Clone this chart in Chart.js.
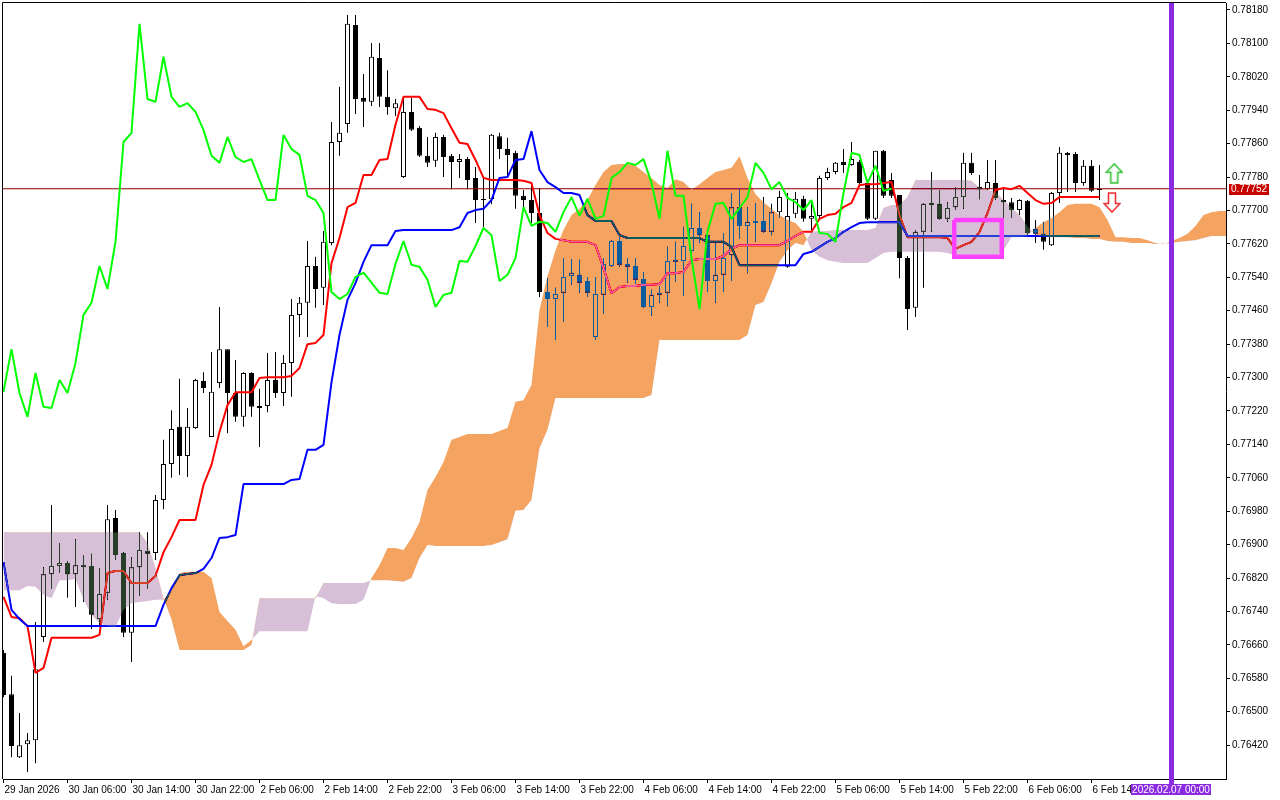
<!DOCTYPE html>
<html>
<head>
<meta charset="utf-8">
<title>H1 Ichimoku</title>
<script src="https://cdn.jsdelivr.net/npm/chart.js@4.4.1/dist/chart.umd.min.js"></script>
<style>
  html, body { margin: 0; padding: 0; background: #fff; }
  canvas { display: block; }
</style>
</head>
<body>
<canvas id="chart" width="1280" height="800"></canvas>
<script>
// H1 bars, index 0 = 29 Jan 22:00, last = 6 Feb 15:00
const opens = [
  0.76641,0.76542,0.76391,0.76422,0.76432,0.76679,0.76829,0.76849,0.76856,0.76829,
  0.76851,0.76849,0.76722,0.76785,0.76964,0.76880,0.76689,0.76846,0.76885,0.76880,
  0.77007,0.77093,0.77182,0.77112,0.77179,0.77292,0.77158,0.77287,0.77368,0.77263,
  0.77206,0.77311,0.77232,0.77232,0.77294,0.77263,0.77335,0.77450,0.77479,0.77567,
  0.77515,0.77622,0.77864,0.77907,0.78144,0.77969,0.77960,0.78065,0.77972,0.77945,
  0.77780,0.77936,0.77898,0.77831,0.77819,0.77876,0.77831,0.77816,0.77823,0.77778,
  0.77727,0.77727,0.77878,0.77847,0.77838,0.77735,0.77725,0.77694,0.77505,0.77488,
  0.77503,0.77543,0.77546,0.77531,0.77397,0.77498,0.77567,0.77627,0.77572,0.77567,
  0.77536,0.77469,0.77498,0.77503,0.77582,0.77579,0.77603,0.77658,0.77641,0.77531,
  0.77546,0.77593,0.77708,0.77663,0.77675,0.77675,0.77649,0.77696,0.77565,0.77692,
  0.77728,0.77680,0.77687,0.77778,0.77792,0.77816,0.77809,0.77816,0.77766,0.77680,
  0.77843,0.77773,0.77737,0.77586,0.77467,0.77649,0.77713,0.77716,0.77680,0.77708,
  0.77732,0.77814,0.77756,0.77751,0.77766,0.77725,0.77720,0.77701,0.77723,0.77656,
  0.77644,0.77617,0.77742,0.77838,0.77835,0.77766,0.77807,0.77749
];
const highs = [
  0.76648,0.76586,0.76497,0.76449,0.76715,0.76846,0.76995,0.76904,0.76861,0.76913,
  0.76875,0.76878,0.76844,0.76995,0.76983,0.76882,0.76870,0.76930,0.76930,0.77019,
  0.77151,0.77222,0.77297,0.77227,0.77297,0.77313,0.77361,0.77469,0.77368,0.77342,
  0.77313,0.77313,0.77273,0.77359,0.77361,0.77354,0.77488,0.77493,0.77627,0.77589,
  0.77651,0.77912,0.77996,0.78168,0.78168,0.78027,0.78101,0.78101,0.78036,0.77967,
  0.77972,0.77969,0.77902,0.77876,0.77886,0.77881,0.77835,0.77835,0.77828,0.77804,
  0.77780,0.77883,0.77886,0.77874,0.77843,0.77749,0.77768,0.77754,0.77538,0.77515,
  0.77586,0.77584,0.77582,0.77541,0.77541,0.77586,0.77629,0.77637,0.77586,0.77586,
  0.77553,0.77510,0.77519,0.77613,0.77625,0.77661,0.77716,0.77696,0.77646,0.77622,
  0.77646,0.77742,0.77751,0.77708,0.77718,0.77732,0.77716,0.77747,0.77742,0.77744,
  0.77735,0.77725,0.77783,0.77802,0.77816,0.77847,0.77864,0.77821,0.77773,0.77843,
  0.77845,0.77790,0.77737,0.77591,0.77653,0.77718,0.77792,0.77749,0.77720,0.77756,
  0.77838,0.77838,0.77785,0.77821,0.77821,0.77756,0.77730,0.77727,0.77725,0.77677,
  0.77673,0.77744,0.77852,0.77840,0.77840,0.77821,0.77821,0.77809
];
const lows = [
  0.76535,0.76391,0.76389,0.76356,0.76377,0.76667,0.76794,0.76832,0.76773,0.76751,
  0.76763,0.76698,0.76706,0.76768,0.76863,0.76679,0.76619,0.76777,0.76794,0.76863,
  0.76985,0.77060,0.77067,0.77062,0.77177,0.77263,0.77158,0.77275,0.77167,0.77194,
  0.77182,0.77206,0.77134,0.77217,0.77251,0.77232,0.77254,0.77397,0.77397,0.77467,
  0.77474,0.77617,0.77831,0.77886,0.77931,0.77900,0.77950,0.77948,0.77929,0.77926,
  0.77778,0.77890,0.77828,0.77804,0.77804,0.77780,0.77751,0.77778,0.77751,0.77670,
  0.77660,0.77715,0.77823,0.77780,0.77704,0.77706,0.77670,0.77493,0.77421,0.77390,
  0.77433,0.77522,0.77503,0.77493,0.77390,0.77452,0.77565,0.77565,0.77527,0.77524,
  0.77467,0.77448,0.77479,0.77471,0.77529,0.77495,0.77586,0.77622,0.77505,0.77479,
  0.77505,0.77531,0.77632,0.77550,0.77625,0.77646,0.77641,0.77682,0.77563,0.77682,
  0.77673,0.77653,0.77682,0.77773,0.77787,0.77790,0.77807,0.77756,0.77677,0.77677,
  0.77730,0.77730,0.77538,0.77414,0.77445,0.77515,0.77649,0.77677,0.77673,0.77701,
  0.77704,0.77785,0.77727,0.77749,0.77725,0.77677,0.77682,0.77689,0.77637,0.77622,
  0.77606,0.77615,0.77718,0.77744,0.77744,0.77759,0.77744,0.77725
];
const closes = [
  0.76540,0.76418,0.76420,0.76432,0.76602,0.76829,0.76849,0.76856,0.76829,0.76851,
  0.76846,0.76732,0.76782,0.76961,0.76875,0.76689,0.76846,0.76887,0.76878,0.77007,
  0.77093,0.77177,0.77112,0.77182,0.77294,0.77275,0.77266,0.77368,0.77263,0.77206,
  0.77311,0.77230,0.77227,0.77294,0.77263,0.77335,0.77450,0.77479,0.77567,0.77512,
  0.77625,0.77864,0.77886,0.78147,0.77967,0.77960,0.78068,0.77972,0.77948,0.77957,
  0.77936,0.77893,0.77831,0.77814,0.77876,0.77828,0.77816,0.77823,0.77773,0.77725,
  0.77725,0.77881,0.77847,0.77833,0.77735,0.77725,0.77694,0.77505,0.77488,0.77500,
  0.77541,0.77551,0.77527,0.77503,0.77500,0.77572,0.77627,0.77570,0.77565,0.77534,
  0.77469,0.77498,0.77503,0.77579,0.77577,0.77615,0.77658,0.77641,0.77531,0.77546,
  0.77586,0.77708,0.77663,0.77673,0.77670,0.77649,0.77696,0.77732,0.77687,0.77728,
  0.77680,0.77687,0.77778,0.77792,0.77814,0.77809,0.77823,0.77766,0.77680,0.77843,
  0.77735,0.77735,0.77586,0.77464,0.77649,0.77716,0.77718,0.77680,0.77706,0.77732,
  0.77814,0.77790,0.77751,0.77768,0.77730,0.77720,0.77701,0.77725,0.77646,0.77644,
  0.77625,0.77742,0.77838,0.77833,0.77766,0.77807,0.77747,0.77752
];

// Ichimoku lines
const tenkan = [
  0.76775,0.76727,0.76724,0.76705,0.76593,0.76605,0.76677,0.76677,0.76677,0.76677,
  0.76677,0.76677,0.76684,0.76832,0.76837,0.76837,0.76808,0.76808,0.76808,0.76825,
  0.76882,0.76918,0.76959,0.76959,0.76959,0.77043,0.77091,0.77170,0.77234,0.77265,
  0.77265,0.77265,0.77299,0.77301,0.77301,0.77301,0.77304,0.77323,0.77380,0.77383,
  0.77402,0.77574,0.77634,0.77708,0.77718,0.77785,0.77785,0.77821,0.77823,0.77905,
  0.77972,0.77972,0.77972,0.77943,0.77941,0.77933,0.77897,0.77862,0.77859,0.77821,
  0.77778,0.77773,0.77773,0.77773,0.77773,0.77771,0.77766,0.77689,0.77646,0.77632,
  0.77629,0.77625,0.77625,0.77625,0.77617,0.77562,0.77502,0.77517,0.77519,0.77519,
  0.77522,0.77522,0.77524,0.77550,0.77550,0.77553,0.77581,0.77584,0.77584,0.77584,
  0.77591,0.77608,0.77617,0.77617,0.77617,0.77617,0.77617,0.77617,0.77627,0.77639,
  0.77649,0.77649,0.77680,0.77689,0.77692,0.77708,0.77718,0.77761,0.77763,0.77763,
  0.77766,0.77768,0.77689,0.77636,0.77636,0.77636,0.77636,0.77636,0.77634,0.77608,
  0.77617,0.77625,0.77649,0.77694,0.77749,0.77754,0.77751,0.77759,0.77742,0.77725,
  0.77716,0.77718,0.77732,0.77732,0.77732,0.77732,0.77732,0.77732
];
const kijun = [
  0.76858,0.76744,0.76722,0.76705,0.76705,0.76705,0.76705,0.76705,0.76705,0.76705,
  0.76705,0.76705,0.76705,0.76705,0.76705,0.76705,0.76705,0.76705,0.76705,0.76705,
  0.76756,0.76796,0.76827,0.76830,0.76832,0.76842,0.76868,0.76916,0.76918,0.76923,
  0.77045,0.77045,0.77045,0.77045,0.77045,0.77045,0.77055,0.77057,0.77127,0.77127,
  0.77139,0.77289,0.77402,0.77486,0.77526,0.77577,0.77617,0.77617,0.77617,0.77651,
  0.77653,0.77653,0.77653,0.77653,0.77653,0.77653,0.77653,0.77660,0.77694,0.77701,
  0.77704,0.77725,0.77778,0.77780,0.77821,0.77823,0.77890,0.77797,0.77768,0.77756,
  0.77742,0.77742,0.77737,0.77689,0.77675,0.77675,0.77675,0.77641,0.77634,0.77634,
  0.77634,0.77634,0.77634,0.77634,0.77634,0.77634,0.77634,0.77634,0.77625,0.77625,
  0.77625,0.77613,0.77569,0.77569,0.77569,0.77569,0.77569,0.77569,0.77569,0.77569,
  0.77596,0.77601,0.77613,0.77625,0.77634,0.77649,0.77660,0.77670,0.77672,0.77672,
  0.77672,0.77672,0.77672,0.77639,0.77639,0.77639,0.77639,0.77639,0.77639,0.77639,
  0.77639,0.77639,0.77639,0.77639,0.77639,0.77639,0.77639,0.77639,0.77639,0.77639,
  0.77639,0.77639,0.77639,0.77639,0.77639,0.77639,0.77639,0.77639
];
// cloud runs 16 bars past the last candle (clipped at the right edge)
const spanA = [
  0.76791,0.76791,0.76791,0.76801,0.76799,0.76780,0.76772,0.76815,0.76815,0.76818,
  0.76768,0.76732,0.76712,0.76705,0.76703,0.76744,0.76760,0.76763,0.76765,0.76768,
  0.76768,0.76791,0.76832,0.76835,0.76835,0.76835,0.76820,0.76739,0.76717,0.76696,
  0.76657,0.76672,0.76693,0.76693,0.76693,0.76693,0.76693,0.76693,0.76693,0.76777,
  0.76772,0.76760,0.76758,0.76758,0.76758,0.76768,0.76820,0.76851,0.76892,0.76892,
  0.76887,0.76916,0.76954,0.77031,0.77062,0.77098,0.77151,0.77158,0.77165,0.77165,
  0.77165,0.77165,0.77172,0.77179,0.77242,0.77246,0.77282,0.77462,0.77543,0.77605,
  0.77653,0.77689,0.77704,0.77725,0.77761,0.77792,0.77809,0.77811,0.77811,0.77807,
  0.77792,0.77778,0.77761,0.77754,0.77775,0.77768,0.77749,0.77763,0.77778,0.77792,
  0.77797,0.77802,0.77830,0.77778,0.77739,0.77720,0.77704,0.77689,0.77677,0.77670,
  0.77649,0.77605,0.77589,0.77581,0.77577,0.77574,0.77574,0.77574,0.77574,0.77586,
  0.77598,0.77601,0.77601,0.77601,0.77601,0.77601,0.77601,0.77601,0.77598,0.77593,
  0.77589,0.77589,0.77589,0.77589,0.77589,0.77605,0.77636,0.77636,0.77639,0.77658,
  0.77672,0.77682,0.77696,0.77713,0.77716,0.77716,0.77716,0.77708,0.77677,0.77636,
  0.77636,0.77634,0.77634,0.77629,0.77622,0.77619,0.77627,0.77634,0.77644,0.77663,
  0.77689,0.77696,0.77699,0.77699
];
const spanB = [
  0.76930,0.76930,0.76930,0.76930,0.76930,0.76930,0.76930,0.76930,0.76930,0.76930,
  0.76930,0.76930,0.76930,0.76930,0.76930,0.76930,0.76930,0.76930,0.76904,0.76844,
  0.76772,0.76720,0.76648,0.76648,0.76648,0.76648,0.76648,0.76648,0.76648,0.76648,
  0.76648,0.76660,0.76772,0.76772,0.76772,0.76772,0.76772,0.76772,0.76772,0.76772,
  0.76808,0.76808,0.76808,0.76808,0.76808,0.76808,0.76815,0.76815,0.76815,0.76813,
  0.76811,0.76820,0.76868,0.76899,0.76897,0.76897,0.76897,0.76897,0.76897,0.76897,
  0.76897,0.76899,0.76906,0.76913,0.76981,0.76983,0.77007,0.77131,0.77175,0.77251,
  0.77251,0.77251,0.77251,0.77251,0.77251,0.77251,0.77251,0.77251,0.77251,0.77251,
  0.77251,0.77258,0.77390,0.77390,0.77390,0.77390,0.77390,0.77390,0.77390,0.77390,
  0.77390,0.77390,0.77390,0.77402,0.77474,0.77481,0.77526,0.77577,0.77605,0.77622,
  0.77617,0.77649,0.77651,0.77651,0.77653,0.77653,0.77653,0.77653,0.77653,0.77658,
  0.77706,0.77713,0.77713,0.77732,0.77773,0.77773,0.77773,0.77773,0.77773,0.77773,
  0.77773,0.77771,0.77754,0.77749,0.77744,0.77725,0.77706,0.77689,0.77663,0.77641,
  0.77639,0.77636,0.77636,0.77636,0.77634,0.77634,0.77632,0.77632,0.77627,0.77625,
  0.77625,0.77622,0.77622,0.77622,0.77620,0.77621,0.77622,0.77625,0.77627,0.77629,
  0.77634,0.77639,0.77639,0.77639
];
// lagging span = close plotted 26 bars back
const chikou = closes.slice(26);

const tickIdx = [0, 8, 16, 24, 32, 40, 48, 56, 64, 72, 80, 88, 96, 104, 112, 120, 128, 136];
const timeLabels = [
  '29 Jan 2026', '30 Jan 06:00', '30 Jan 14:00', '30 Jan 22:00', '2 Feb 06:00', '2 Feb 14:00',
  '2 Feb 22:00', '3 Feb 06:00', '3 Feb 14:00', '3 Feb 22:00', '4 Feb 06:00', '4 Feb 14:00',
  '4 Feb 22:00', '5 Feb 06:00', '5 Feb 14:00', '5 Feb 22:00', '6 Feb 06:00', '6 Feb 14:00'
];
const priceTicks = [
  0.78180, 0.78100, 0.78020, 0.77940, 0.77860, 0.77780, 0.77700, 0.77620, 0.77540, 0.77460,
  0.77380, 0.77300, 0.77220, 0.77140, 0.77060, 0.76980, 0.76900, 0.76820, 0.76740, 0.76660,
  0.76580, 0.76500, 0.76420
];

// chart objects (time as bar index, price)
const markerIndex = 146;
const markerLabel = '2026.02.07 00:00';
const boxTimes = [118.84, 124.78, 124.78, 118.84, 118.84];
const boxPrices = [0.77677, 0.77677, 0.77589, 0.77589, 0.77677];
const arrowTimes = [138.85, 138.56];
const arrowPrices = [0.77789, 0.77719];

const X_MIN = -0.0625, X_MAX = 152.8125;
const Y_MIN = 0.763390, Y_MAX = 0.781967;
const lastPrice = closes[closes.length - 1];
const SPAN_B = 5, SPAN_A = 6;
const FONT = '"Liberation Sans", Arial, sans-serif';

const pts = arr => arr.map((v, i) => ({ x: i, y: v }));

function arrowIcon(up, stroke) {
  const c = document.createElement('canvas');
  c.width = 18; c.height = 21;
  const g = c.getContext('2d');
  if (!up) { g.translate(0, 21); g.scale(1, -1); }
  g.beginPath();
  g.moveTo(9, 1); g.lineTo(17, 9.5); g.lineTo(12.5, 9.5); g.lineTo(12.5, 20);
  g.lineTo(5.5, 20); g.lineTo(5.5, 9.5); g.lineTo(1, 9.5); g.closePath();
  g.fillStyle = '#fff'; g.fill();
  g.lineWidth = 1.6; g.strokeStyle = stroke; g.stroke();
  return c;
}

// MT5 draws the cloud by XOR; 'difference' with these colours gives
// sandy brown / thistle on white and blue / dark green over black candles
const mt5Look = {
  id: 'mt5Look',
  beforeDraw(chart) {
    const ctx = chart.ctx;
    ctx.save();
    ctx.globalCompositeOperation = 'source-over';
    ctx.fillStyle = '#fff';
    ctx.fillRect(0, 0, chart.width, chart.height);
    ctx.restore();
  },
  afterDatasetDraw(chart, args) {
    if (args.index === SPAN_B) chart.ctx.globalCompositeOperation = 'difference';
  },
  beforeDatasetDraw(chart, args) {
    // filler has already painted span A's fill at this point
    if (args.index === SPAN_A) chart.ctx.globalCompositeOperation = 'source-over';
  },
  afterDraw(chart) {
    const ctx = chart.ctx, a = chart.chartArea;
    const xs = chart.scales.x, ys = chart.scales.y;
    ctx.save();
    ctx.globalCompositeOperation = 'source-over';
    ctx.strokeStyle = '#000';
    ctx.lineWidth = 1;
    ctx.beginPath();
    ctx.moveTo(a.left - 0.5, a.bottom);
    ctx.lineTo(a.left - 0.5, a.top - 0.5);
    ctx.lineTo(a.right, a.top - 0.5);
    ctx.stroke();

    // current price tag
    const py = Math.round(ys.getPixelForValue(lastPrice));
    ctx.fillStyle = '#c80000';
    ctx.fillRect(a.right + 3, py - 5, 40, 11);
    ctx.fillStyle = '#fff';
    ctx.font = '10px ' + FONT;
    ctx.textAlign = 'left';
    ctx.textBaseline = 'middle';
    ctx.fillText(lastPrice.toFixed(5), a.right + 5, py + 0.5);

    // time tag of the vertical line
    const vx = Math.round(xs.getPixelForValue(markerIndex));
    ctx.fillStyle = 'rgb(138,43,226)';
    ctx.fillRect(vx - 3, a.bottom, 5, 6);
    ctx.fillRect(vx - 41, a.bottom + 5, 80, 11);
    ctx.fillStyle = '#fff';
    ctx.textAlign = 'center';
    ctx.fillText(markerLabel, vx - 1, a.bottom + 11);
    ctx.restore();
  }
};

Chart.defaults.font.family = FONT;
Chart.defaults.font.size = 10;
Chart.defaults.color = '#000';

new Chart(document.getElementById('chart'), {
  type: 'bar',
  data: {
    datasets: [
      {
        type: 'bar', label: 'wicks',
        data: lows.map((l, i) => ({ x: i, y: [l, highs[i]] })),
        backgroundColor: '#000', borderWidth: 0, barThickness: 1,
        inflateAmount: 0, grouped: false, order: 12
      },
      {
        type: 'bar', label: 'bodies',
        data: opens.map((o, i) => ({ x: i, y: [o, closes[i]] })),
        backgroundColor: opens.map((o, i) => closes[i] >= o ? '#fff' : '#000'),
        borderColor: '#000', borderWidth: 1, borderSkipped: false,
        barThickness: 5, minBarLength: 1, inflateAmount: 0, grouped: false, order: 11
      },
      {
        type: 'line', label: 'price',
        data: [{ x: X_MIN - 1, y: lastPrice }, { x: X_MAX + 1, y: lastPrice }],
        borderColor: '#8c0000', borderWidth: 1, order: 10
      },
      { type: 'line', label: 'Tenkan-sen', data: pts(tenkan), borderColor: '#ff0000', borderWidth: 2, order: 9 },
      { type: 'line', label: 'Kijun-sen', data: pts(kijun), borderColor: '#0000ff', borderWidth: 2, order: 8 },
      {
        type: 'line', label: 'Senkou Span B', data: pts(spanB),
        borderColor: 'rgba(0,0,0,0)', borderWidth: 0, order: 7
      },
      {
        type: 'line', label: 'Senkou Span A', data: pts(spanA),
        borderColor: 'rgba(0,0,0,0)', borderWidth: 0, order: 6,
        fill: { target: SPAN_B, above: 'rgb(11,91,159)', below: 'rgb(39,64,39)' }
      },
      { type: 'line', label: 'Chikou Span', data: pts(chikou), borderColor: '#00ff00', borderWidth: 2, order: 5 },
      {
        type: 'line', label: 'vline',
        data: [{ x: markerIndex, y: Y_MIN - 0.001 }, { x: markerIndex, y: Y_MAX + 0.001 }],
        borderColor: 'rgb(138,43,226)', borderWidth: 5, order: 4
      },
      {
        type: 'line', label: 'box',
        data: boxTimes.map((t, i) => ({ x: t, y: boxPrices[i] })),
        borderColor: '#ff40ff', borderWidth: 4.5, borderJoinStyle: 'miter', order: 3
      },
      {
        type: 'line', label: 'arrows',
        data: arrowTimes.map((t, i) => ({ x: t, y: arrowPrices[i] })),
        showLine: false, pointRadius: 10,
        pointStyle: [arrowIcon(true, '#34c034'), arrowIcon(false, '#f03030')], order: 2
      }
    ]
  },
  options: {
    responsive: false,
    animation: false,
    devicePixelRatio: 1,
    events: [],
    layout: { autoPadding: false, padding: { left: 3, top: 3, right: 0, bottom: 0 } },
    elements: {
      point: { radius: 0 },
      line: { tension: 0, borderJoinStyle: 'bevel', fill: false }
    },
    plugins: {
      legend: { display: false },
      tooltip: { enabled: false }
    },
    scales: {
      x: {
        type: 'linear', min: X_MIN, max: X_MAX, offset: false,
        grid: { display: true, drawOnChartArea: false, drawTicks: true, tickLength: 4, color: '#000', offset: false },
        border: { display: true, color: '#000' },
        ticks: {
          autoSkip: false, maxRotation: 0, minRotation: 0, align: 'start',
          padding: 1, labelOffset: 1, color: '#000',
          callback: (v, i) => timeLabels[i]
        },
        afterBuildTicks: s => { s.ticks = tickIdx.map(v => ({ value: v })); },
        afterFit: s => { s.height = 21; s.paddingLeft = 0; s.paddingRight = 0; }
      },
      y: {
        type: 'linear', position: 'right', min: Y_MIN, max: Y_MAX,
        grid: { display: true, drawOnChartArea: false, drawTicks: true, tickLength: 4, color: '#000' },
        border: { display: true, color: '#000' },
        ticks: { padding: 2, color: '#000', callback: v => v.toFixed(5) },
        afterBuildTicks: s => { s.ticks = priceTicks.map(v => ({ value: v })); },
        afterFit: s => { s.width = 54; s.paddingTop = 0; s.paddingBottom = 0; }
      }
    }
  },
  plugins: [mt5Look]
});
</script>
</body>
</html>
